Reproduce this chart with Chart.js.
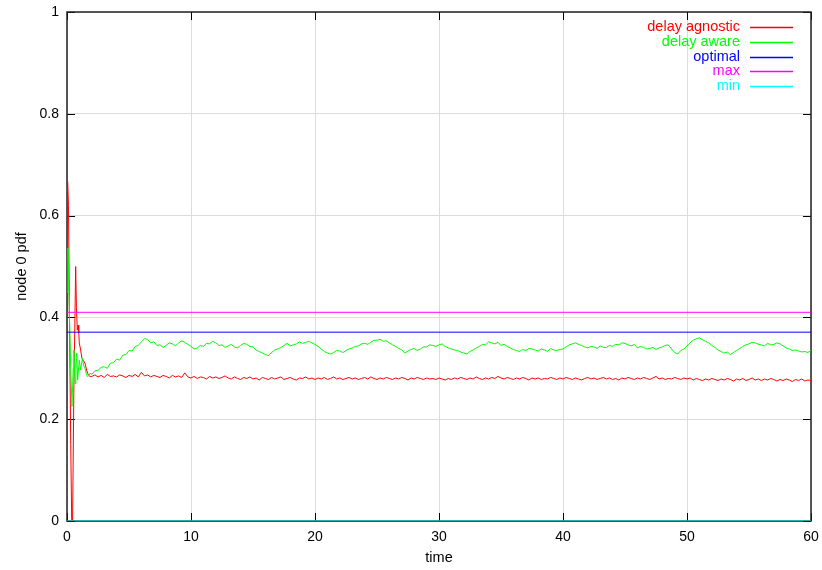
<!DOCTYPE html>
<html><head><meta charset="utf-8">
<script src="https://cdn.jsdelivr.net/npm/chart.js@4.4.1/dist/chart.umd.min.js"></script>
<style>html,body{margin:0;padding:0;background:#fff}#wrap{width:822px;height:570px;position:relative}</style>
</head><body><div id="wrap"><canvas id="c"></canvas></div>
<script>
const seriesNames = ['delay agnostic', 'delay aware', 'optimal', 'max', 'min'];
const seriesColors = ['#ff0000', '#00ff00', '#0000ff', '#ff00ff', '#00ffff'];
const xTicks = [0, 10, 20, 30, 40, 50, 60];
const yTicks = [0, 0.2, 0.4, 0.6, 0.8, 1];
const xTitle = 'time';
const yTitle = 'node 0 pdf';

// early transient (explicit times)
const agnosticEarlyT = [0, 0.05, 0.12, 0.2, 0.3, 0.38, 0.45, 0.55, 0.7, 0.76, 0.83, 0.9, 0.95, 0.99, 1.1, 1.2, 1.3, 1.45, 1.6, 1.72, 1.85];
const agnosticEarlyV = [0.40, 0.667, 0.62, 0.40, 0.15, 0.0, 0.0, 0.25, 0.50, 0.42, 0.375, 0.385, 0.37, 0.35, 0.336, 0.32, 0.316, 0.31, 0.295, 0.287, 0.284];
const awareEarlyT = [0, 0.08, 0.2, 0.3, 0.4, 0.5, 0.56, 0.65, 0.72, 0.78, 0.86, 0.99, 1.1, 1.24, 1.35, 1.45, 1.55, 1.64, 1.75, 1.85];
const awareEarlyV = [0.45, 0.536, 0.40, 0.30, 0.225, 0.30, 0.336, 0.27, 0.31, 0.33, 0.277, 0.316, 0.297, 0.32, 0.305, 0.30, 0.29, 0.284, 0.285, 0.29];

// steady part sampled every 0.25 time units from t = 2 to t = 60
const tailStart = 2;
const tailStep = 0.25;
const agnosticTail = [
0.284,0.287,0.283,0.286,0.282,0.288,0.284,0.285,
0.283,0.287,0.285,0.282,0.286,0.284,0.288,0.283,
0.292,0.285,0.287,0.283,0.286,0.284,0.282,0.286,
0.284,0.281,0.286,0.283,0.285,0.282,0.291,0.283,
0.281,0.284,0.280,0.283,0.282,0.279,0.284,0.281,
0.283,0.280,0.282,0.285,0.281,0.279,0.283,0.280,
0.278,0.282,0.280,0.283,0.279,0.281,0.277,0.282,
0.280,0.278,0.282,0.279,0.281,0.283,0.278,0.280,
0.282,0.279,0.277,0.281,0.280,0.283,0.279,0.281,
0.278,0.281,0.279,0.282,0.278,0.280,0.283,0.279,
0.281,0.278,0.280,0.282,0.279,0.281,0.278,0.280,
0.282,0.279,0.283,0.280,0.278,0.281,0.279,0.282,
0.280,0.278,0.281,0.279,0.282,0.280,0.277,0.281,
0.279,0.282,0.280,0.278,0.281,0.279,0.280,0.278,
0.281,0.279,0.277,0.280,0.278,0.281,0.279,0.282,
0.280,0.278,0.281,0.279,0.283,0.280,0.278,0.281,
0.279,0.282,0.280,0.284,0.281,0.279,0.282,0.280,
0.278,0.281,0.279,0.282,0.280,0.277,0.281,0.279,
0.281,0.278,0.280,0.279,0.282,0.280,0.278,0.281,
0.279,0.282,0.280,0.278,0.281,0.279,0.277,0.280,
0.282,0.279,0.281,0.278,0.280,0.282,0.279,0.281,
0.278,0.280,0.277,0.281,0.279,0.282,0.280,0.278,
0.281,0.279,0.282,0.280,0.278,0.281,0.284,0.279,
0.281,0.278,0.280,0.279,0.282,0.280,0.278,0.281,
0.279,0.281,0.277,0.280,0.278,0.276,0.279,0.277,
0.280,0.278,0.276,0.279,0.277,0.280,0.278,0.275,
0.279,0.277,0.280,0.276,0.278,0.281,0.277,0.279,
0.276,0.279,0.277,0.280,0.278,0.275,0.278,0.276,
0.279,0.277,0.274,0.278,0.276,0.279,0.275,0.277,
0.276];
const awareTail = [
0.288,0.295,0.296,0.302,0.303,0.300,0.310,0.311,
0.318,0.316,0.326,0.327,0.335,0.334,0.343,0.345,
0.352,0.358,0.357,0.350,0.352,0.345,0.346,0.341,
0.345,0.350,0.348,0.344,0.350,0.354,0.351,0.347,
0.343,0.338,0.340,0.345,0.343,0.349,0.348,0.353,
0.350,0.345,0.346,0.341,0.344,0.347,0.342,0.340,
0.345,0.349,0.347,0.343,0.342,0.336,0.333,0.330,
0.327,0.325,0.331,0.336,0.338,0.341,0.345,0.349,
0.344,0.346,0.348,0.352,0.349,0.351,0.353,0.350,
0.347,0.343,0.338,0.333,0.330,0.328,0.331,0.335,
0.334,0.331,0.335,0.338,0.340,0.343,0.344,0.348,
0.349,0.347,0.351,0.355,0.355,0.357,0.353,0.354,
0.350,0.346,0.343,0.339,0.336,0.330,0.334,0.337,
0.339,0.335,0.338,0.342,0.342,0.346,0.345,0.343,
0.346,0.348,0.343,0.340,0.338,0.336,0.335,0.332,
0.330,0.328,0.333,0.336,0.340,0.343,0.347,0.346,
0.352,0.350,0.348,0.351,0.345,0.347,0.343,0.340,
0.337,0.335,0.333,0.337,0.335,0.339,0.338,0.336,
0.334,0.338,0.336,0.333,0.339,0.336,0.335,0.337,
0.338,0.342,0.346,0.348,0.350,0.347,0.345,0.342,
0.340,0.343,0.342,0.339,0.344,0.341,0.341,0.345,
0.343,0.347,0.346,0.350,0.349,0.346,0.344,0.347,
0.340,0.343,0.341,0.338,0.339,0.341,0.337,0.340,
0.342,0.345,0.346,0.338,0.331,0.328,0.335,0.338,
0.344,0.350,0.355,0.358,0.360,0.356,0.353,0.350,
0.345,0.341,0.336,0.333,0.330,0.332,0.327,0.331,
0.335,0.339,0.343,0.346,0.348,0.351,0.350,0.347,
0.346,0.344,0.349,0.346,0.347,0.350,0.348,0.344,
0.340,0.338,0.335,0.336,0.334,0.332,0.333,0.331,
0.335];

const refT = [0, 60];
const optimalV = [0.371, 0.371];
const maxV = [0.41, 0.41];
const minV = [0, 0];

function pts(ts, vs) { return ts.map((t, i) => ({x: t, y: vs[i]})); }
function tail(vs) { return vs.map((v, i) => ({x: tailStart + i * tailStep, y: v})); }

const FONT = '"Liberation Sans", Arial, sans-serif';

const frameLegend = {
  id: 'frameLegend',
  beforeDatasetsDraw(chart) {
    const {ctx, chartArea: a, scales: {x, y}} = chart;
    ctx.save();
    ctx.strokeStyle = '#000';
    ctx.lineWidth = 1;
    ctx.beginPath();
    xTicks.forEach(v => {
      const px = Math.round(x.getPixelForValue(v)) + 0.5;
      ctx.moveTo(px, a.bottom); ctx.lineTo(px, a.bottom - 8);
      ctx.moveTo(px, a.top); ctx.lineTo(px, a.top + 8);
    });
    yTicks.forEach(v => {
      const py = Math.round(y.getPixelForValue(v)) + 0.5;
      ctx.moveTo(a.left, py); ctx.lineTo(a.left + 8, py);
      ctx.moveTo(a.right, py); ctx.lineTo(a.right - 8, py);
    });
    ctx.stroke();
    ctx.lineWidth = 1.5;
    ctx.strokeStyle = '#222';
    ctx.strokeRect(Math.round(a.left), Math.round(a.top), Math.round(a.right - a.left), Math.round(a.bottom - a.top));
    ctx.restore();
  },
  afterDraw(chart) {
    const {ctx} = chart;
    ctx.save();
    ctx.font = '14.5px ' + FONT;
    ctx.textAlign = 'right';
    ctx.textBaseline = 'middle';
    const tx = 740, l0 = 750, l1 = 793, y0 = 27, dy = 14.8;
    seriesNames.forEach((n, i) => {
      const yy = y0 + i * dy;
      ctx.fillStyle = seriesColors[i];
      ctx.fillText(n, tx, yy);
      ctx.strokeStyle = seriesColors[i];
      ctx.lineWidth = 1.3;
      ctx.beginPath();
      ctx.moveTo(l0, Math.round(yy) + 0.5); ctx.lineTo(l1, Math.round(yy) + 0.5);
      ctx.stroke();
    });
    ctx.restore();
  }
};

const ds = (label, data, color, order) => ({
  label, data, borderColor: color, backgroundColor: color, borderWidth: 1,
  pointRadius: 0, tension: 0, fill: false, order
});

new Chart(document.getElementById('c'), {
  type: 'line',
  data: {
    datasets: [
      ds(seriesNames[0], pts(agnosticEarlyT, agnosticEarlyV).concat(tail(agnosticTail)), seriesColors[0], 5),
      ds(seriesNames[1], pts(awareEarlyT, awareEarlyV).concat(tail(awareTail)), seriesColors[1], 4),
      ds(seriesNames[2], pts(refT, optimalV), seriesColors[2], 3),
      ds(seriesNames[3], pts(refT, maxV), seriesColors[3], 2),
      ds(seriesNames[4], pts(refT, minV), seriesColors[4], 1)
    ]
  },
  options: {
    responsive: true, maintainAspectRatio: false, animation: false, devicePixelRatio: 1,
    layout: {padding: {top: 12, right: 11, left: 0, bottom: 0}},
    plugins: {legend: {display: false}, tooltip: {enabled: false}},
    scales: {
      x: {
        type: 'linear', min: 0, max: 60,
        afterBuildTicks(s) { s.ticks = xTicks.map(v => ({value: v})); },
        afterFit(s) { s.height = 49; s.paddingLeft = 0; s.paddingRight = 0; },
        grid: {color: '#dcdcdc', lineWidth: 1, drawTicks: false},
        border: {display: false},
        ticks: {color: '#000', font: {family: FONT, size: 14}, padding: 8, maxRotation: 0, callback: v => String(v)},
        title: {display: true, text: xTitle, color: '#000', font: {family: FONT, size: 14.5}, padding: {top: 0, bottom: 3}}
      },
      y: {
        type: 'linear', min: 0, max: 1,
        afterBuildTicks(s) { s.ticks = yTicks.map(v => ({value: v})); },
        afterFit(s) { s.width = 67; s.paddingTop = 0; s.paddingBottom = 0; },
        grid: {color: '#dcdcdc', lineWidth: 1, drawTicks: false},
        border: {display: false},
        ticks: {color: '#000', font: {family: FONT, size: 14}, padding: 8, callback: v => String(v)},
        title: {display: true, text: yTitle, color: '#000', font: {family: FONT, size: 14.5}, padding: {top: 13, bottom: 0}}
      }
    }
  },
  plugins: [frameLegend]
});
</script>
</body></html>
